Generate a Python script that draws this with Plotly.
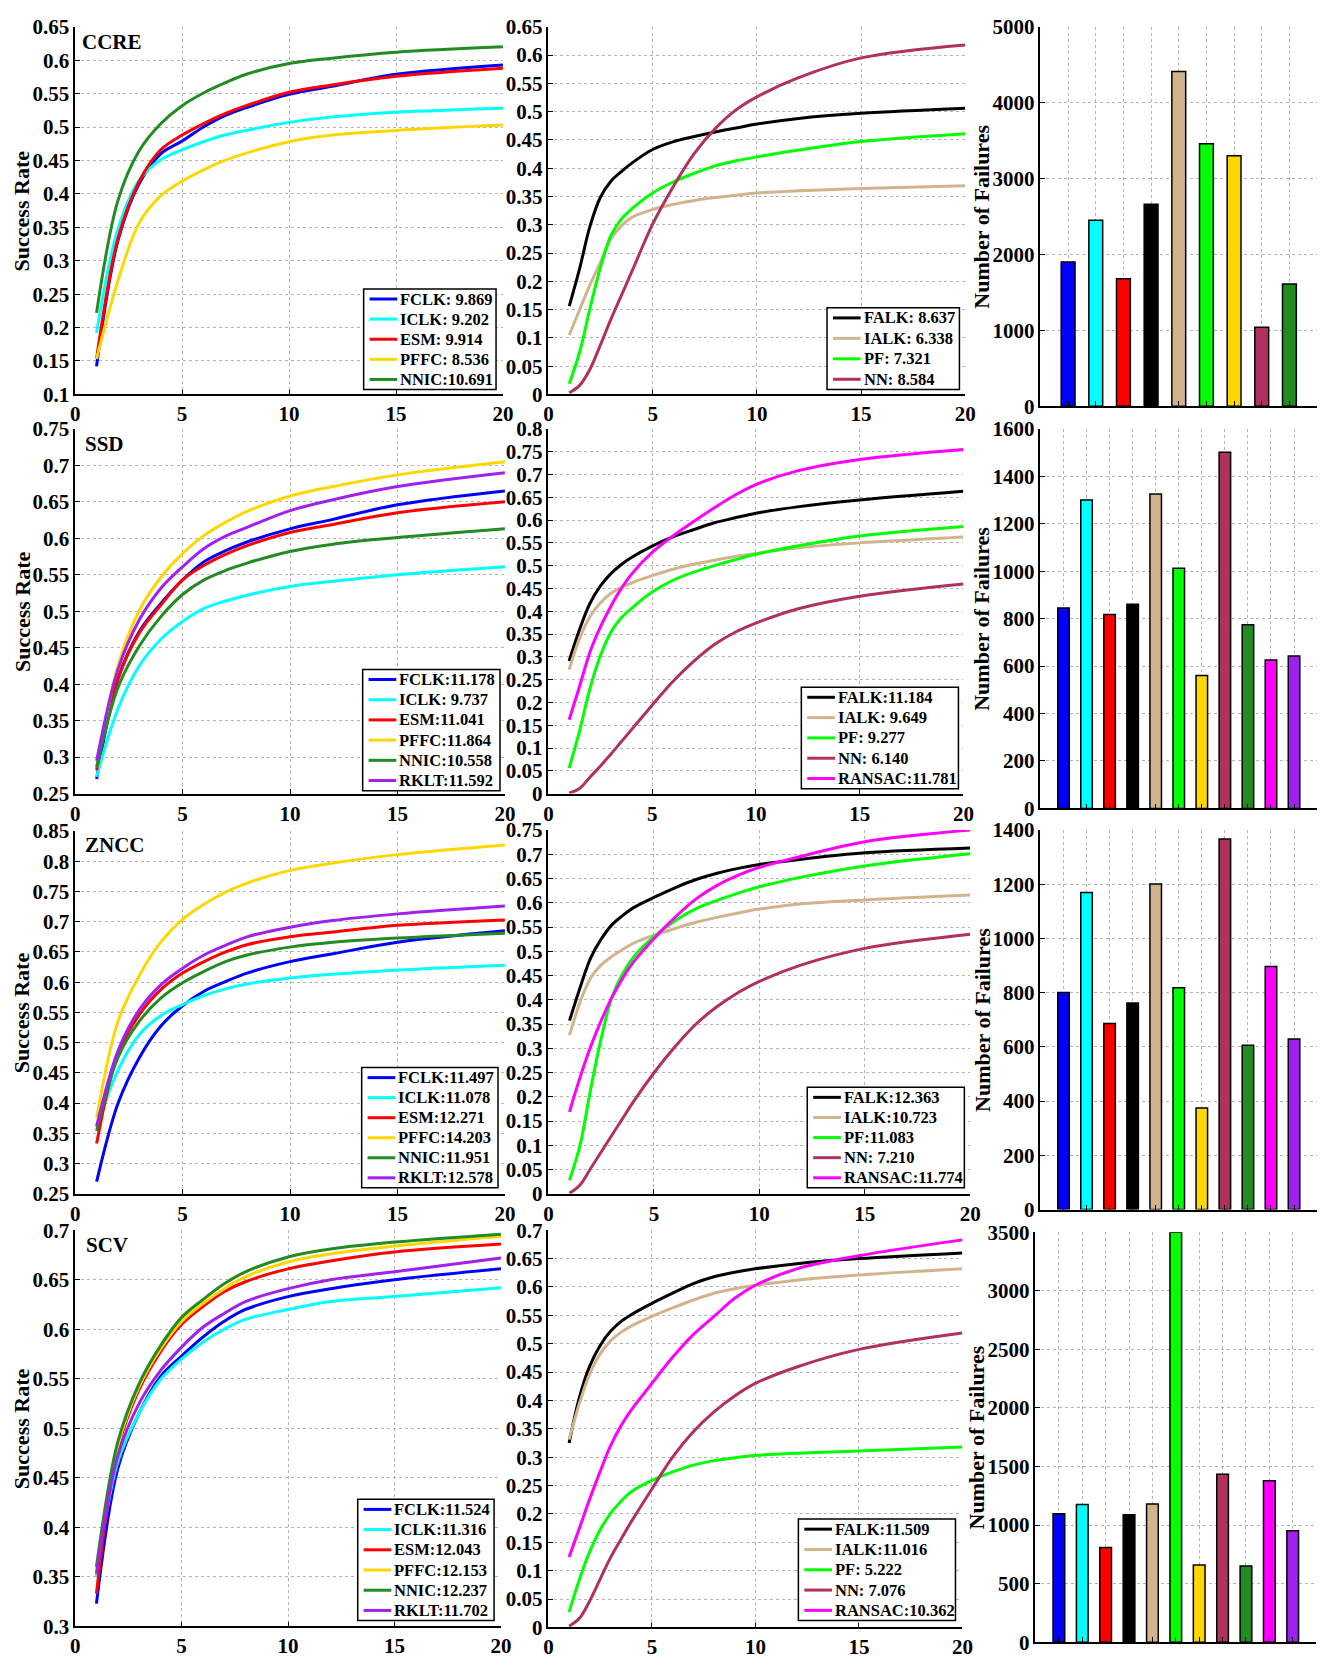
import plotly.graph_objects as go

W, H = 1335, 1669
FONT = "Liberation Serif"

# x positions (pixel-error thresholds) used for the curves
X1 = [1, 2, 3, 4, 5, 6, 7, 8, 10, 12, 15, 20]
X2 = [1, 1.5, 2, 2.5, 3, 3.5, 4, 5, 6, 7, 8, 9, 10, 12, 15, 20]

# ---- CCRE ----
ccre_fclk = [0.142, 0.330, 0.416, 0.460, 0.479, 0.500, 0.517, 0.529, 0.549, 0.561, 0.579, 0.593]
ccre_iclk = [0.192, 0.347, 0.421, 0.451, 0.466, 0.478, 0.488, 0.495, 0.507, 0.515, 0.522, 0.528]
ccre_esm = [0.153, 0.333, 0.419, 0.466, 0.488, 0.505, 0.520, 0.532, 0.552, 0.563, 0.576, 0.588]
ccre_pffc = [0.153, 0.270, 0.357, 0.397, 0.419, 0.436, 0.450, 0.461, 0.478, 0.488, 0.495, 0.503]
ccre_nnic = [0.222, 0.390, 0.465, 0.505, 0.532, 0.551, 0.566, 0.579, 0.595, 0.603, 0.612, 0.620]
ccre_falk = [0.156, 0.223, 0.298, 0.349, 0.377, 0.394, 0.409, 0.433, 0.447, 0.456, 0.464, 0.471, 0.478, 0.488, 0.497, 0.506]
ccre_ialk = [0.105, 0.150, 0.194, 0.234, 0.275, 0.298, 0.313, 0.327, 0.336, 0.343, 0.348, 0.352, 0.356, 0.360, 0.364, 0.369]
ccre_pf = [0.019, 0.075, 0.153, 0.225, 0.281, 0.310, 0.328, 0.356, 0.376, 0.391, 0.404, 0.413, 0.420, 0.432, 0.447, 0.461]
ccre_nn = [0.003, 0.016, 0.045, 0.088, 0.133, 0.175, 0.217, 0.301, 0.368, 0.426, 0.470, 0.503, 0.526, 0.560, 0.595, 0.618]
ccre_fail = [1900, 2450, 1680, 2660, 4410, 3460, 3300, 1040, 1610]

# ---- SSD ----
ssd_fclk = [0.270, 0.408, 0.473, 0.511, 0.543, 0.568, 0.583, 0.595, 0.613, 0.626, 0.646, 0.665]
ssd_iclk = [0.273, 0.367, 0.426, 0.462, 0.486, 0.504, 0.514, 0.522, 0.534, 0.541, 0.550, 0.561]
ssd_esm = [0.282, 0.408, 0.471, 0.509, 0.543, 0.563, 0.578, 0.590, 0.608, 0.619, 0.635, 0.650]
ssd_pffc = [0.286, 0.426, 0.502, 0.547, 0.579, 0.604, 0.622, 0.637, 0.658, 0.671, 0.687, 0.705]
ssd_nnic = [0.286, 0.396, 0.453, 0.493, 0.523, 0.543, 0.556, 0.566, 0.582, 0.592, 0.601, 0.613]
ssd_rklt = [0.295, 0.421, 0.489, 0.532, 0.561, 0.586, 0.603, 0.615, 0.638, 0.653, 0.671, 0.690]
ssd_falk = [0.291, 0.360, 0.417, 0.455, 0.482, 0.502, 0.518, 0.543, 0.563, 0.579, 0.594, 0.605, 0.615, 0.629, 0.644, 0.663]
ssd_ialk = [0.272, 0.340, 0.388, 0.418, 0.439, 0.452, 0.462, 0.478, 0.492, 0.503, 0.512, 0.520, 0.527, 0.539, 0.550, 0.563]
ssd_pf = [0.056, 0.137, 0.230, 0.302, 0.353, 0.385, 0.406, 0.442, 0.468, 0.486, 0.500, 0.513, 0.525, 0.543, 0.565, 0.586]
ssd_nn = [0.001, 0.011, 0.036, 0.060, 0.086, 0.113, 0.140, 0.194, 0.246, 0.290, 0.327, 0.354, 0.374, 0.405, 0.433, 0.460]
ssd_ransac = [0.162, 0.235, 0.310, 0.365, 0.410, 0.449, 0.481, 0.529, 0.565, 0.597, 0.627, 0.655, 0.678, 0.708, 0.733, 0.755]
ssd_fail = [845, 1300, 817, 861, 1326, 1012, 560, 1502, 774, 626, 643]

# ---- ZNCC ----
zncc_fclk = [0.270, 0.400, 0.476, 0.528, 0.561, 0.585, 0.601, 0.615, 0.634, 0.647, 0.666, 0.685]
zncc_iclk = [0.360, 0.455, 0.514, 0.545, 0.563, 0.578, 0.589, 0.597, 0.607, 0.613, 0.620, 0.628]
zncc_esm = [0.333, 0.482, 0.547, 0.588, 0.615, 0.634, 0.650, 0.662, 0.675, 0.683, 0.694, 0.703]
zncc_pffc = [0.376, 0.536, 0.612, 0.667, 0.704, 0.729, 0.749, 0.764, 0.785, 0.797, 0.811, 0.827]
zncc_nnic = [0.354, 0.476, 0.536, 0.574, 0.599, 0.618, 0.634, 0.645, 0.658, 0.666, 0.673, 0.681]
zncc_rklt = [0.362, 0.487, 0.555, 0.596, 0.623, 0.645, 0.661, 0.675, 0.691, 0.702, 0.713, 0.726]
zncc_falk = [0.357, 0.425, 0.486, 0.525, 0.554, 0.573, 0.589, 0.611, 0.631, 0.648, 0.661, 0.671, 0.679, 0.690, 0.703, 0.713]
zncc_ialk = [0.327, 0.395, 0.445, 0.472, 0.489, 0.503, 0.516, 0.533, 0.547, 0.560, 0.570, 0.579, 0.587, 0.598, 0.606, 0.616]
zncc_pf = [0.028, 0.100, 0.215, 0.320, 0.404, 0.452, 0.486, 0.530, 0.563, 0.588, 0.605, 0.620, 0.633, 0.653, 0.676, 0.701]
zncc_nn = [0.001, 0.018, 0.052, 0.086, 0.120, 0.154, 0.188, 0.249, 0.303, 0.350, 0.386, 0.415, 0.438, 0.472, 0.506, 0.535]
zncc_ransac = [0.169, 0.240, 0.303, 0.357, 0.404, 0.443, 0.476, 0.526, 0.570, 0.608, 0.636, 0.657, 0.673, 0.696, 0.726, 0.750]
zncc_fail = [801, 1170, 686, 762, 1201, 818, 375, 1367, 606, 897, 629]

# ---- SCV ----
scv_fclk = [0.323, 0.459, 0.515, 0.552, 0.573, 0.592, 0.608, 0.620, 0.633, 0.641, 0.650, 0.661]
scv_iclk = [0.350, 0.466, 0.515, 0.549, 0.570, 0.587, 0.600, 0.610, 0.620, 0.628, 0.633, 0.642]
scv_esm = [0.333, 0.479, 0.539, 0.577, 0.605, 0.623, 0.638, 0.648, 0.661, 0.669, 0.678, 0.686]
scv_pffc = [0.356, 0.482, 0.542, 0.580, 0.608, 0.626, 0.641, 0.653, 0.668, 0.676, 0.684, 0.694]
scv_nnic = [0.360, 0.486, 0.545, 0.583, 0.612, 0.630, 0.646, 0.658, 0.673, 0.681, 0.688, 0.696]
scv_rklt = [0.353, 0.472, 0.525, 0.558, 0.582, 0.602, 0.616, 0.628, 0.641, 0.650, 0.658, 0.672]
scv_falk = [0.325, 0.406, 0.461, 0.497, 0.522, 0.539, 0.551, 0.571, 0.589, 0.606, 0.618, 0.626, 0.632, 0.641, 0.650, 0.660]
scv_ialk = [0.331, 0.395, 0.447, 0.482, 0.505, 0.520, 0.531, 0.548, 0.563, 0.577, 0.589, 0.597, 0.603, 0.612, 0.621, 0.632]
scv_pf = [0.027, 0.085, 0.134, 0.172, 0.201, 0.222, 0.239, 0.259, 0.274, 0.286, 0.294, 0.299, 0.303, 0.307, 0.311, 0.318]
scv_nn = [0.002, 0.016, 0.047, 0.085, 0.123, 0.155, 0.186, 0.244, 0.300, 0.345, 0.380, 0.408, 0.430, 0.459, 0.490, 0.519]
scv_ransac = [0.124, 0.175, 0.227, 0.275, 0.320, 0.355, 0.383, 0.430, 0.476, 0.516, 0.548, 0.580, 0.603, 0.632, 0.655, 0.683]
scv_fail = [1097, 1176, 808, 1089, 1179, 3500, 660, 1434, 651, 1378, 951]

# legend labels
ccre_labels1 = ["FCLK: 9.869", "ICLK: 9.202", "ESM: 9.914", "PFFC: 8.536", "NNIC:10.691"]
ccre_labels2 = ["FALK: 8.637", "IALK: 6.338", "PF: 7.321", "NN: 8.584"]
ssd_labels1 = ["FCLK:11.178", "ICLK: 9.737", "ESM:11.041", "PFFC:11.864", "NNIC:10.558", "RKLT:11.592"]
ssd_labels2 = ["FALK:11.184", "IALK: 9.649", "PF: 9.277", "NN: 6.140", "RANSAC:11.781"]
zncc_labels1 = ["FCLK:11.497", "ICLK:11.078", "ESM:12.271", "PFFC:14.203", "NNIC:11.951", "RKLT:12.578"]
zncc_labels2 = ["FALK:12.363", "IALK:10.723", "PF:11.083", "NN: 7.210", "RANSAC:11.774"]
scv_labels1 = ["FCLK:11.524", "ICLK:11.316", "ESM:12.043", "PFFC:12.153", "NNIC:12.237", "RKLT:11.702"]
scv_labels2 = ["FALK:11.509", "IALK:11.016", "PF: 5.222", "NN: 7.076", "RANSAC:10.362"]

BLUE, CYAN, RED, GOLD, FGREEN, PURPLE = "#0000FF", "#00FFFF", "#FF0000", "#FFD700", "#228B22", "#A020F0"
BLACK, TAN, LIME, MAROON, MAGENTA = "#000000", "#D2B48C", "#00FF00", "#B03060", "#FF00FF"
col1_colors = [BLUE, CYAN, RED, GOLD, FGREEN, PURPLE]
col2_colors = [BLACK, TAN, LIME, MAROON, MAGENTA]
bar_colors9 = [BLUE, CYAN, RED, BLACK, TAN, LIME, GOLD, MAROON, FGREEN]
bar_colors11 = [BLUE, CYAN, RED, BLACK, TAN, LIME, GOLD, MAROON, FGREEN, MAGENTA, PURPLE]

rows = [
    dict(name="CCRE", s1=[ccre_fclk, ccre_iclk, ccre_esm, ccre_pffc, ccre_nnic], l1=ccre_labels1,
         s2=[ccre_falk, ccre_ialk, ccre_pf, ccre_nn], l2=ccre_labels2, bars=ccre_fail, bc=bar_colors9,
         y1=(0.1, 0.65), y2=(0, 0.65), yb=(0, 5000, 1000), nb=10),
    dict(name="SSD", s1=[ssd_fclk, ssd_iclk, ssd_esm, ssd_pffc, ssd_nnic, ssd_rklt], l1=ssd_labels1,
         s2=[ssd_falk, ssd_ialk, ssd_pf, ssd_nn, ssd_ransac], l2=ssd_labels2, bars=ssd_fail, bc=bar_colors11,
         y1=(0.25, 0.75), y2=(0, 0.8), yb=(0, 1600, 200), nb=12),
    dict(name="ZNCC", s1=[zncc_fclk, zncc_iclk, zncc_esm, zncc_pffc, zncc_nnic, zncc_rklt], l1=zncc_labels1,
         s2=[zncc_falk, zncc_ialk, zncc_pf, zncc_nn, zncc_ransac], l2=zncc_labels2, bars=zncc_fail, bc=bar_colors11,
         y1=(0.25, 0.85), y2=(0, 0.75), yb=(0, 1400, 200), nb=12),
    dict(name="SCV", s1=[scv_fclk, scv_iclk, scv_esm, scv_pffc, scv_nnic, scv_rklt], l1=scv_labels1,
         s2=[scv_falk, scv_ialk, scv_pf, scv_nn, scv_ransac], l2=scv_labels2, bars=scv_fail, bc=bar_colors11,
         y1=(0.3, 0.7), y2=(0, 0.7), yb=(0, 3500, 500), nb=12),
]

# pixel boxes (left, right, top, bottom)
boxes = [
    [(71, 504, 15, 388), (550, 972, 15, 388), (1048, 1328, 15, 400)],
    [(71, 506, 423, 793), (550, 970, 423, 793), (1048, 1328, 423, 808)],
    [(71, 506, 831, 1199), (550, 977, 830, 1199), (1048, 1328, 830, 1215)],
    [(71, 502, 1236, 1638), (550, 969, 1236, 1639), (1043, 1327, 1238, 1654)],
]
legend_boxes = [
    [(363, 497, 281, 383), (832, 966, 300, 383)],
    [(362, 501, 667, 790), (806, 965, 685, 788)],
    [(361, 499, 1071, 1193), (812, 971, 1091, 1193)],
    [(357, 495, 1509, 1632), (803, 962, 1529, 1632)],
]
label_pos = [(76, 30), (79, 438), (79, 845), (80, 1251)]
fail_title_x = [988, 988, 990, 983]


def fmt(v):
    s = ("%.2f" % v).rstrip("0").rstrip(".")
    return s if s else "0"


def frange(a, b, step):
    vals = []
    k = 0
    while True:
        v = round(a + k * step, 4)
        if v > b + 1e-9:
            break
        vals.append(v)
        k += 1
    return vals


def px(x):
    return x / W


def py(y):
    return 1 - y / H


def bold(t):
    return "<b>%s</b>" % t


fig = go.Figure()
layout = dict(width=W, height=H, margin=dict(l=0, r=0, t=0, b=0),
              paper_bgcolor="white", plot_bgcolor="white",
              font=dict(family=FONT, size=21, color="black"),
              showlegend=False)
annotations = []
shapes = []
tickfont = dict(family=FONT, size=21, color="black")
grid = dict(showgrid=True, gridcolor="#b4b4b4", griddash="dot", gridwidth=1, zeroline=False,
            showline=True, linecolor="black", linewidth=1.5, ticks="inside", ticklen=5,
            tickcolor="black", tickfont=tickfont)

ax = 0
for r, row in enumerate(rows):
    for c in range(3):
        ax += 1
        xa = "xaxis" if ax == 1 else "xaxis%d" % ax
        ya = "yaxis" if ax == 1 else "yaxis%d" % ax
        xr = "x" if ax == 1 else "x%d" % ax
        yr = "y" if ax == 1 else "y%d" % ax
        L, R, T, B = boxes[r][c]
        xdom = [px(L), px(R)]
        ydom = [py(B), py(T)]
        if c < 2:
            series = row["s1"] if c == 0 else row["s2"]
            labels = row["l1"] if c == 0 else row["l2"]
            colors = col1_colors if c == 0 else col2_colors
            xs = X1 if c == 0 else X2
            for s, lab, colr in zip(series, labels, colors):
                fig.add_trace(go.Scatter(x=xs, y=s, name=lab, mode="lines",
                                         line=dict(color=colr, width=3, shape="spline", smoothing=1.0),
                                         xaxis=xr, yaxis=yr))
            lo, hi = row["y1"] if c == 0 else row["y2"]
            tv = frange(lo, hi, 0.05)
            layout[xa] = dict(domain=xdom, anchor=yr, range=[0, 20], tickvals=[0, 5, 10, 15, 20],
                              ticktext=[bold(t) for t in ["0", "5", "10", "15", "20"]], **grid)
            layout[ya] = dict(domain=ydom, anchor=xr, range=[lo, hi], tickvals=tv,
                              ticktext=[bold(fmt(v)) for v in tv], **grid)
            # legend box drawn in pixel space
            bl, br_, bt, bb = legend_boxes[r][c]
            shapes.append(dict(type="rect", xref="paper", yref="paper", x0=px(bl), x1=px(br_),
                               y0=py(bb), y1=py(bt), fillcolor="white",
                               line=dict(color="black", width=1.5), layer="above"))
            n = len(labels)
            rh = (bb - bt) / n
            for i, (lab, colr) in enumerate(zip(labels, colors)):
                yc = bt + (i + 0.5) * rh
                shapes.append(dict(type="line", xref="paper", yref="paper", x0=px(bl + 6), x1=px(bl + 34),
                                   y0=py(yc), y1=py(yc), line=dict(color=colr, width=3), layer="above"))
                annotations.append(dict(text=bold(lab), x=px(bl + 35), y=py(yc), xref="paper", yref="paper",
                                        xanchor="left", yanchor="middle", showarrow=False,
                                        font=dict(family=FONT, size=16.5, color="black")))
            if c == 0:
                annotations.append(dict(text=bold(row["name"]), x=px(label_pos[r][0]), y=py(label_pos[r][1]),
                                        xref="paper", yref="paper", xanchor="left", yanchor="middle",
                                        showarrow=False, font=dict(family=FONT, size=21, color="black")))
                annotations.append(dict(text=bold("Success Rate"), x=px(17), y=py((T + B) / 2),
                                        xref="paper", yref="paper", xanchor="center", yanchor="middle",
                                        textangle=-90, showarrow=False,
                                        font=dict(family=FONT, size=22, color="black")))
        else:
            vals = row["bars"]
            pos = list(range(1, len(vals) + 1))
            fig.add_trace(go.Bar(x=pos, y=vals, width=0.5, showlegend=False,
                                 marker=dict(color=row["bc"], line=dict(color="black", width=1.5)),
                                 xaxis=xr, yaxis=yr))
            lo, hi, st = row["yb"]
            tv = list(range(lo, hi + 1, st))
            layout[xa] = dict(domain=xdom, anchor=yr, range=[0, row["nb"]], tickvals=pos,
                              showticklabels=False, **grid)
            layout[ya] = dict(domain=ydom, anchor=xr, range=[lo, hi], tickvals=tv,
                              ticktext=[bold(str(v)) for v in tv], **grid)
            annotations.append(dict(text=bold("Number of Failures"), x=px(fail_title_x[r]), y=py((T + B) / 2),
                                    xref="paper", yref="paper", xanchor="center", yanchor="middle",
                                    textangle=-90, showarrow=False,
                                    font=dict(family=FONT, size=22, color="black")))

layout["annotations"] = annotations
layout["shapes"] = shapes
fig.update_layout(**layout)
fig.write_html("out.html")
